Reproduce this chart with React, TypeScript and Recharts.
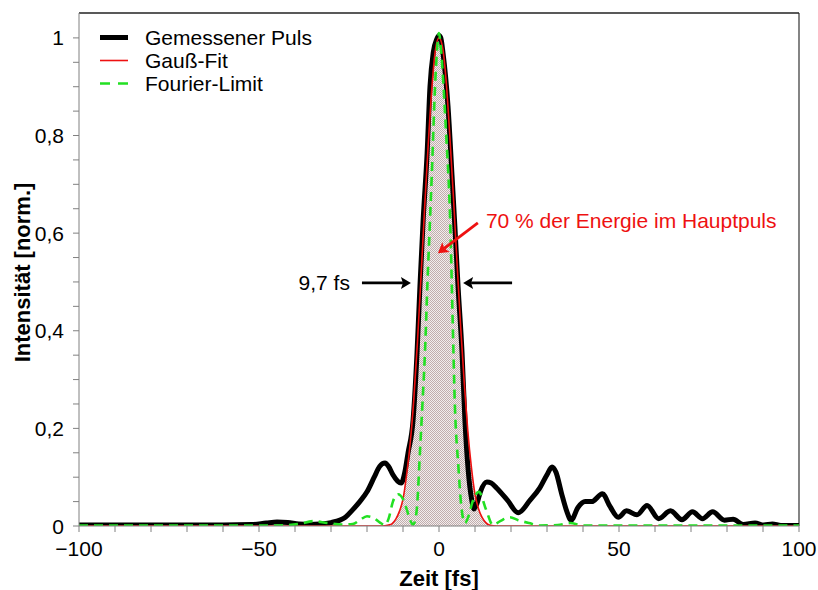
import React from 'react';
import { ComposedChart, Line, Area, XAxis, YAxis, ReferenceLine, Legend } from 'recharts';

const FONT = '"Liberation Sans", Arial, sans-serif';

// Gemessener Puls (time in fs, normalized intensity)
const pulseT = [-100, -80, -60, -52, -48, -45, -42, -39, -36, -33, -30, -27.5, -26, -24, -22, -20, -18, -16.5, -15, -14, -12.8, -11.5, -10.5, -9.5, -8.6, -7.2, -6.1, -5.3, -4.4, -3.3, -2.5, -1.6, -0.6, 0, 0.5, 1.1, 2.5, 3.6, 4.4, 5.3, 6.4, 7.2, 8.1, 9.1, 9.7, 10.5, 11.5, 13.3, 14.5, 16, 19, 22, 25.3, 28, 30, 31.4, 32.5, 34, 35.5, 36.7, 38.6, 40.6, 42.4, 45.4, 47.5, 49.8, 52.1, 55, 57.8, 61, 64.3, 67.5, 70.4, 73.2, 76, 79.3, 81.7, 84.5, 87.8, 90.2, 92.6, 95, 100];
const pulseV = [0.002, 0.002, 0.002, 0.003, 0.006, 0.008, 0.007, 0.004, 0.003, 0.004, 0.007, 0.012, 0.018, 0.033, 0.05, 0.07, 0.1, 0.122, 0.129, 0.122, 0.105, 0.092, 0.088, 0.11, 0.15, 0.217, 0.355, 0.49, 0.627, 0.764, 0.9, 0.97, 0.998, 1.005, 1.0, 0.97, 0.86, 0.72, 0.615, 0.49, 0.355, 0.217, 0.115, 0.053, 0.035, 0.045, 0.07, 0.09, 0.088, 0.078, 0.053, 0.027, 0.053, 0.078, 0.105, 0.121, 0.11, 0.068, 0.03, 0.012, 0.038, 0.05, 0.05, 0.066, 0.04, 0.018, 0.031, 0.023, 0.042, 0.015, 0.031, 0.013, 0.029, 0.015, 0.029, 0.012, 0.014, 0.003, 0.006, 0.002, 0.004, 0.001, 0.001];

// Gauß-Fit
const gaussT = [-100, -16, -14, -13, -12, -11, -10, -9, -8, -7, -6, -5, -4, -3, -2, -1, 0, 1, 2, 3, 4, 5, 6, 7, 8, 9, 10, 11, 12, 13, 14, 16, 100];
const gaussV = [0, 0, 0.002, 0.005, 0.014, 0.03, 0.055, 0.105, 0.17, 0.26, 0.375, 0.51, 0.65, 0.78, 0.895, 0.975, 1.0, 0.98, 0.91, 0.8, 0.675, 0.54, 0.41, 0.295, 0.195, 0.12, 0.065, 0.035, 0.017, 0.007, 0.002, 0, 0];

// Fourier-Limit
const fourierT = [-100, -45, -39, -35, -31, -27, -24, -22, -20, -18, -16.4, -15, -14, -12.8, -11.4, -10, -9, -8, -7.2, -6.6, -6.1, -5.3, -4.6, -3.9, -3.2, -2.5, -2, -1.1, -0.5, 0, 0.5, 1.1, 2, 3.1, 3.8, 4.4, 5.4, 6.2, 7.2, 8.2, 9.2, 11.1, 13, 15, 17, 19.7, 22, 25, 28, 33, 36.4, 40, 100];
const fourierV = [0.001, 0.001, 0.004, 0.01, 0.006, 0.003, 0.004, 0.012, 0.02, 0.016, 0.007, 0.002, 0.015, 0.05, 0.065, 0.055, 0.035, 0.012, 0.003, 0.012, 0.04, 0.15, 0.25, 0.355, 0.5, 0.627, 0.72, 0.9, 0.98, 1.01, 0.98, 0.92, 0.8, 0.627, 0.42, 0.25, 0.12, 0.04, 0.006, 0.02, 0.047, 0.07, 0.035, 0.002, 0.01, 0.018, 0.012, 0.006, 0.001, 0.002, 0.006, 0.001, 0.001];

const xTicks = [-100, -90, -80, -70, -60, -50, -40, -30, -20, -10, 0, 10, 20, 30, 40, 50, 60, 70, 80, 90, 100];
const xLabels = [-100, -50, 0, 50, 100];
const yTicks = [0, 0.05, 0.1, 0.15, 0.2, 0.25, 0.3, 0.35, 0.4, 0.45, 0.5, 0.55, 0.6, 0.65, 0.7, 0.75, 0.8, 0.85, 0.9, 0.95, 1];
const yLabels = [0, 0.2, 0.4, 0.6, 0.8, 1];

const legendNames = ['Gemessener Puls', 'Gauß-Fit', 'Fourier-Limit'];

const rows = (t: number[], v: number[]) => t.map((x, i) => ({ t: x, v: v[i] }));
const pulseData = rows(pulseT, pulseV);
const gaussData = rows(gaussT, gaussV);
const fourierData = rows(fourierT, fourierV);

const fmtX = (v: number) => (v < 0 ? '\u2212' + Math.abs(v) : String(v));
const fmtY = (v: number) => (v === 0 || v === 1 ? String(v) : v.toFixed(1).replace('.', ','));

const XTick = (props: any) => {
  const { x, y, payload } = props;
  if (!xLabels.includes(payload.value)) return <g />;
  return (
    <text x={x} y={y} dy="0.71em" textAnchor="middle" fontSize={21} fontFamily={FONT} fill="#000">
      {fmtX(payload.value)}
    </text>
  );
};

const YTick = (props: any) => {
  const { x, y, payload } = props;
  if (!yLabels.some(l => Math.abs(l - payload.value) < 1e-6)) return <g />;
  return (
    <text x={x} y={y} dy="0.36em" textAnchor="end" fontSize={21} fontFamily={FONT} fill="#000">
      {fmtY(payload.value)}
    </text>
  );
};

const YTitle = (props: any) => {
  const vb = props.viewBox || { x: 0, y: 13, width: 79, height: 513 };
  const cx = vb.x + 22;
  const cy = vb.y + vb.height / 2 + 3;
  return (
    <text x={cx} y={cy} transform={`rotate(-90 ${cx} ${cy})`} textAnchor="middle" dominantBaseline="central"
      fontSize={22} fontWeight="bold" fontFamily={FONT} fill="#000">
      Intensität [norm.]
    </text>
  );
};

const legendStyle: Record<string, { color: string; width: number; dash?: string }> = {
  'Gemessener Puls': { color: '#000', width: 5 },
  'Gauß-Fit': { color: '#ee1111', width: 1.6 },
  'Fourier-Limit': { color: '#22e022', width: 2.5, dash: '10 8' },
};

const renderLegend = (props: any) => {
  const items = (props.payload || [])
    .filter((p: any) => legendNames.includes(p.value))
    .sort((a: any, b: any) => legendNames.indexOf(a.value) - legendNames.indexOf(b.value));
  return (
    <div style={{ fontFamily: FONT, fontSize: 21, lineHeight: '23px', color: '#000' }}>
      {items.map((p: any) => {
        const s = legendStyle[p.value];
        return (
          <div key={p.value} style={{ display: 'flex', alignItems: 'center', height: 23, whiteSpace: 'nowrap' }}>
            <svg width={45} height={23}>
              <line x1={0} x2={28} y1={11.5} y2={11.5} stroke={s.color} strokeWidth={s.width} strokeDasharray={s.dash} />
            </svg>
            <span>{p.value}</span>
          </div>
        );
      })}
    </div>
  );
};

// arrow drawn between the data-space end points of a ReferenceLine segment
const arrowShape = (color: string, width: number, text: string, side: 'before' | 'after') => (p: any) => {
  const { x1, y1, x2, y2 } = p;
  const dx = x2 - x1;
  const dy = y2 - y1;
  const len = Math.sqrt(dx * dx + dy * dy) || 1;
  const ux = dx / len;
  const uy = dy / len;
  const hl = 10;
  const hw = 6;
  const bx = x2 - ux * hl;
  const by = y2 - uy * hl;
  const pts = `${x2},${y2} ${bx - uy * hw},${by + ux * hw} ${bx + ux * 2},${by + uy * 2} ${bx + uy * hw},${by - ux * hw}`;
  return (
    <g>
      <line x1={x1} y1={y1} x2={bx + ux * 2} y2={by + uy * 2} stroke={color} strokeWidth={width} />
      <polygon points={pts} fill={color} />
      {text && (
        <text
          x={side === 'before' ? x1 - 12 : x1 + 8}
          y={y1 - (side === 'before' ? 0 : 2)}
          dominantBaseline="central"
          textAnchor={side === 'before' ? 'end' : 'start'}
          fontSize={21}
          fontFamily={FONT}
          fill={color}
        >
          {text}
        </text>
      )}
    </g>
  );
};

export default function App() {
  return (
    <div style={{ position: 'absolute', left: 0, top: 0, width: 818, height: 590, background: '#fff' }}>
      <ComposedChart width={818} height={590} margin={{ top: 13, right: 19, left: 0, bottom: 0 }}>
        <defs>
          <pattern id="hatch" width="2" height="2" patternUnits="userSpaceOnUse">
            <rect width="2" height="2" fill="#f2eded" />
            <rect width="1" height="1" fill="#c1adad" />
            <rect x="1" y="1" width="1" height="1" fill="#c1adad" />
          </pattern>
        </defs>
        <XAxis
          dataKey="t"
          type="number"
          domain={[-100, 100]}
          ticks={xTicks}
          interval={0}
          allowDataOverflow
          height={64}
          tickSize={6}
          tickMargin={9}
          stroke="#808080"
          tick={<XTick />}
          label={{ value: 'Zeit [fs]', position: 'insideBottom', offset: 4, fontSize: 22, fontWeight: 'bold', fontFamily: FONT, fill: '#000' }}
        />
        <YAxis
          dataKey="v"
          type="number"
          domain={[0, 1.051]}
          ticks={yTicks}
          interval={0}
          allowDataOverflow
          width={79}
          tickSize={6}
          tickMargin={9}
          stroke="#808080"
          tick={<YTick />}
          label={{ content: <YTitle /> }}
        />
        <ReferenceLine x={100} stroke="#333" strokeWidth={1.2} ifOverflow="visible" />
        <ReferenceLine y={1.051} stroke="#222" strokeWidth={1.5} ifOverflow="visible" />
        <Area
          data={gaussData}
          dataKey="v"
          type="monotone"
          stroke="none"
          fill="url(#hatch)"
          fillOpacity={1}
          baseValue={0}
          legendType="none"
          isAnimationActive={false}
          activeDot={false}
        />
        <Line
          data={pulseData}
          dataKey="v"
          name="Gemessener Puls"
          type="monotone"
          stroke="#000"
          strokeWidth={5}
          dot={false}
          activeDot={false}
          isAnimationActive={false}
        />
        <Line
          data={gaussData}
          dataKey="v"
          name="Gauß-Fit"
          type="monotone"
          stroke="#ee1111"
          strokeWidth={1.6}
          dot={false}
          activeDot={false}
          isAnimationActive={false}
        />
        <Line
          data={fourierData}
          dataKey="v"
          name="Fourier-Limit"
          type="monotone"
          stroke="#22e022"
          strokeWidth={2.6}
          strokeDasharray="9 6"
          dot={false}
          activeDot={false}
          isAnimationActive={false}
        />
        <ReferenceLine
          segment={[{ x: -21.4, y: 0.498 }, { x: -7.8, y: 0.498 }]}
          stroke="#000"
          ifOverflow="visible"
          shape={arrowShape('#000', 2.6, '9,7 fs', 'before')}
        />
        <ReferenceLine
          segment={[{ x: 20.3, y: 0.498 }, { x: 6.7, y: 0.498 }]}
          stroke="#000"
          ifOverflow="visible"
          shape={arrowShape('#000', 2.6, '', 'after')}
        />
        <ReferenceLine
          segment={[{ x: 10.8, y: 0.621 }, { x: -0.3, y: 0.559 }]}
          stroke="#ee1111"
          ifOverflow="visible"
          shape={arrowShape('#ee1111', 2.8, '70 % der Energie im Hauptpuls', 'after')}
        />
        <Legend
          layout="vertical"
          align="center"
          verticalAlign="middle"
          wrapperStyle={{ top: 26, left: 100, width: 'auto', height: 'auto' }}
          content={renderLegend}
        />
      </ComposedChart>
    </div>
  );
}
